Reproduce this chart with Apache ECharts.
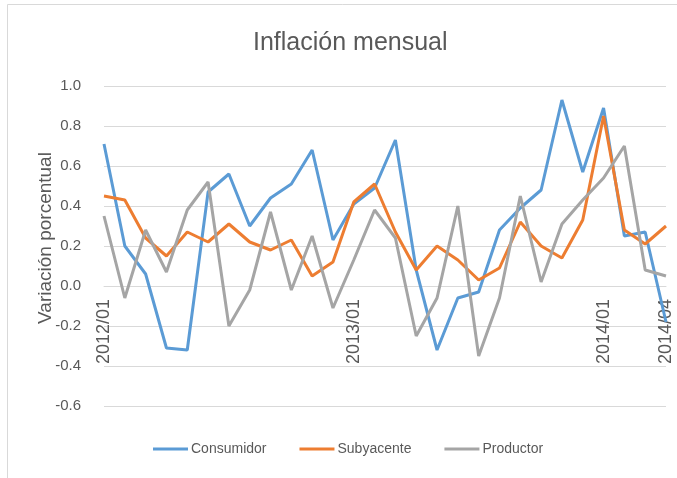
<!DOCTYPE html>
<html>
<head>
<meta charset="utf-8">
<script src="https://cdn.jsdelivr.net/npm/echarts@6/dist/echarts.min.js"></script>
<style>
html,body{margin:0;padding:0;background:#fff;}
#chart{width:677px;height:478px;}
</style>
</head>
<body>
<div id="chart"></div>
<script>
const categories = ['2012/01','2012/02','2012/03','2012/04','2012/05','2012/06','2012/07','2012/08','2012/09','2012/10','2012/11','2012/12',
  '2013/01','2013/02','2013/03','2013/04','2013/05','2013/06','2013/07','2013/08','2013/09','2013/10','2013/11','2013/12',
  '2014/01','2014/02','2014/03','2014/04'];
const consumidor = [0.71,0.20,0.06,-0.31,-0.32,0.47,0.56,0.30,0.44,0.51,0.68,0.23,0.41,0.49,0.73,0.08,-0.32,-0.06,-0.03,0.28,0.39,0.48,0.93,0.57,0.89,0.25,0.27,-0.18];
const subyacente = [0.45,0.43,0.24,0.15,0.27,0.22,0.31,0.22,0.18,0.23,0.05,0.12,0.42,0.51,0.27,0.08,0.20,0.13,0.03,0.09,0.32,0.20,0.14,0.33,0.85,0.28,0.21,0.30];
const productor = [0.35,-0.06,0.28,0.07,0.38,0.52,-0.20,-0.02,0.37,-0.02,0.25,-0.11,0.13,0.38,0.24,-0.25,-0.06,0.40,-0.35,-0.06,0.45,0.02,0.31,0.43,0.54,0.70,0.08,0.05];
const shownLabels = ['2012/01','2013/01','2014/01','2014/04'];

const FONT = '"Liberation Sans", Arial, sans-serif';
const chart = echarts.init(document.getElementById('chart'));
function mk(name, data, color){
  return {name, type:'line', data, symbol:'none', smooth:false,
    lineStyle:{color, width:3}, itemStyle:{color}};
}
chart.setOption({
  animation:false,
  backgroundColor:'#fff',
  graphic:[{type:'rect', shape:{x:7.5,y:4.5,width:700,height:500}, style:{fill:'none', stroke:'#d9d9d9', lineWidth:1}, silent:true}],
  title:{text:'Inflación mensual', left:248, top:26,
    textStyle:{fontFamily:FONT, fontSize:25, fontWeight:'normal', color:'#595959'}},
  legend:{bottom:17, left:148, itemWidth:35, itemHeight:3, itemGap:33,
    icon:'rect',
    textStyle:{fontFamily:FONT, fontSize:14, color:'#595959', padding:[0,0,0,-2]},
    data:['Consumidor','Subyacente','Productor']},
  grid:{left:104, right:11, top:86, bottom:72, containLabel:false},
  xAxis:{type:'category', data:categories, boundaryGap:false,
    axisLine:{show:true, lineStyle:{color:'#d9d9d9'}},
    axisTick:{show:false},
    axisLabel:{rotate:90, interval:0, fontFamily:FONT, fontSize:18, color:'#595959', margin:-107,
      formatter:v => shownLabels.includes(v) ? v : ''},
    splitLine:{show:false}},
  yAxis:{type:'value', min:-0.6, max:1.0, interval:0.2,
    name:'Variación porcentual', nameLocation:'middle', nameGap:49, nameRotate:90, nameMoveOverlap:false,
    nameTextStyle:{fontFamily:FONT, fontSize:19, color:'#595959', padding:[0,0,0,16]},
    axisLine:{show:false}, axisTick:{show:false},
    axisLabel:{fontFamily:FONT, fontSize:15, color:'#595959', margin:23,
      formatter:v => v.toFixed(1)},
    splitLine:{lineStyle:{color:'#d9d9d9', width:1}}},
  series:[mk('Consumidor',consumidor,'#5B9BD5'), mk('Subyacente',subyacente,'#ED7D31'), mk('Productor',productor,'#A5A5A5')]
});
</script>
</body>
</html>
